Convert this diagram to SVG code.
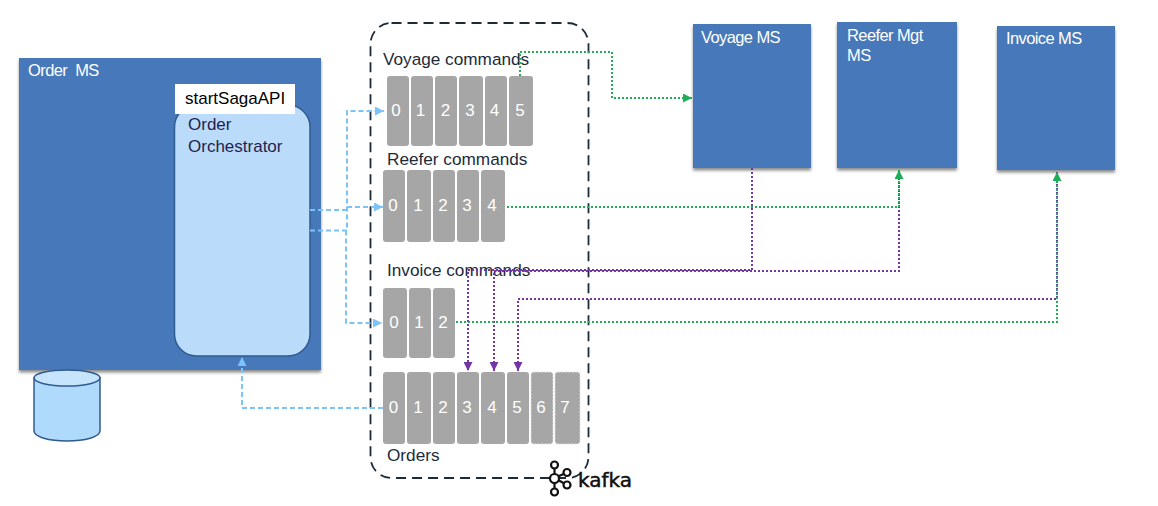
<svg xmlns="http://www.w3.org/2000/svg" width="1158" height="506" viewBox="0 0 1158 506">
<style>
text{font-family:"Liberation Sans",Arial,sans-serif}
.ms{fill:#4678b9;filter:url(#sh)}
.wl{fill:#fff;font-size:16.500px;letter-spacing:-0.600px}
.dl{fill:#1c2b3a;font-size:17.200px}
.p{fill:#a6a6a6}
.pd{fill:#a6a6a6;stroke:#e4e4e4;stroke-width:1;stroke-dasharray:2 1.500}
.n{fill:#fff;font-size:17px;text-anchor:middle}
.c{fill:none;stroke-linejoin:miter}
.b{stroke:#7cc3fa;stroke-width:2;stroke-dasharray:5 3}
.g{stroke:#1fae55;stroke-width:2;stroke-dasharray:2 2}
.v{stroke:#7436a6;stroke-width:2;stroke-dasharray:2 2}
</style>
<defs>
<filter id="sh" x="-5%" y="-5%" width="110%" height="110%"><feDropShadow dx="0" dy="2.500" stdDeviation="1.500" flood-color="#000" flood-opacity="0.45"/></filter>
<marker id="ab" markerUnits="userSpaceOnUse" markerWidth="10" markerHeight="9" refX="9" refY="4.500" orient="auto"><path d="M0 0L9 4.500L0 9z" fill="#7cc3fa"/></marker>
<marker id="ag" markerUnits="userSpaceOnUse" markerWidth="10" markerHeight="9" refX="9" refY="4.500" orient="auto"><path d="M0 0L9 4.500L0 9z" fill="#1fae55"/></marker>
<marker id="av" markerUnits="userSpaceOnUse" markerWidth="10" markerHeight="9" refX="9" refY="4.500" orient="auto"><path d="M0 0L9 4.500L0 9z" fill="#7436a6"/></marker>
</defs>
<g id="order-ms">
<rect class="ms" x="19" y="58" width="302" height="312"/>
<text class="wl" x="28" y="76" xml:space="preserve">Order  MS</text>
</g>
<g id="order-orchestrator">
<rect x="174.500" y="105" width="135.500" height="251" rx="22" fill="#bbdbfb" stroke="#2f5b91" stroke-width="1.500"/>
<text x="188" y="130" font-size="17" fill="#241f4f">Order</text>
<text x="188" y="152" font-size="17" fill="#241f4f">Orchestrator</text>
</g>
<g id="start-saga-api">
<rect x="175" y="84" width="120" height="30" fill="#fff"/>
<text x="185" y="104" font-size="17" fill="#000">startSagaAPI</text>
</g>
<g id="database">
<path d="M34 378V431C34 437 49 441 67 441S100 437 100 431V378z" fill="#b0dafc" stroke="#2f5b91" stroke-width="1.500"/>
<ellipse cx="67" cy="378" rx="33" ry="8" fill="#c6e4fc" stroke="#2f5b91" stroke-width="1.500"/>
</g>
<g id="kafka-cluster">
<rect x="370.500" y="23" width="218" height="455" rx="21" fill="none" stroke="#1c2b3a" stroke-width="1.800" stroke-dasharray="10 6"/>
</g>
<g id="voyage-commands">
<text class="dl" x="383" y="65">Voyage commands</text>
<rect class="p" x="387" y="76" width="22" height="70" rx="3"/><rect class="p" x="411" y="76" width="22" height="70" rx="3"/><rect class="p" x="435" y="76" width="22" height="70" rx="3"/><rect class="p" x="459" y="76" width="24" height="70" rx="3"/><rect class="p" x="485" y="76" width="22" height="70" rx="3"/><rect class="p" x="509" y="76" width="24" height="70" rx="3"/>
<text class="n" x="396" y="116">0</text><text class="n" x="420.500" y="116">1</text><text class="n" x="445.500" y="116">2</text><text class="n" x="470" y="116">3</text><text class="n" x="494.500" y="116">4</text><text class="n" x="520" y="116">5</text>
</g>
<g id="reefer-commands">
<text class="dl" x="387" y="165">Reefer commands</text>
<rect class="p" x="383" y="170" width="22" height="72" rx="3"/><rect class="p" x="407" y="170" width="24" height="72" rx="3"/><rect class="p" x="433" y="170" width="22" height="72" rx="3"/><rect class="p" x="457" y="170" width="22" height="72" rx="3"/><rect class="p" x="481" y="170" width="24" height="72" rx="3"/>
<text class="n" x="393" y="211">0</text><text class="n" x="418" y="211">1</text><text class="n" x="443" y="211">2</text><text class="n" x="467" y="211">3</text><text class="n" x="492" y="211">4</text>
</g>
<g id="invoice-commands">
<text class="dl" x="387" y="276">Invoice commands</text>
<rect class="p" x="383" y="288" width="24" height="70" rx="3"/><rect class="p" x="409" y="288" width="22" height="70" rx="3"/><rect class="p" x="433" y="288" width="22" height="70" rx="3"/>
<text class="n" x="394" y="328">0</text><text class="n" x="419" y="328">1</text><text class="n" x="443" y="328">2</text>
</g>
<g id="orders">
<rect class="p" x="383" y="372" width="22" height="72" rx="3"/><rect class="p" x="407" y="372" width="24" height="72" rx="3"/><rect class="p" x="433" y="372" width="22" height="72" rx="3"/><rect class="p" x="457" y="372" width="22" height="72" rx="3"/><rect class="p" x="481" y="372" width="24" height="72" rx="3"/><rect class="p" x="507" y="372" width="22" height="72" rx="3"/><rect class="pd" x="531" y="372" width="22" height="72" rx="3"/><rect class="pd" x="555" y="372" width="25" height="72" rx="3"/>
<text class="n" x="393.500" y="413">0</text><text class="n" x="418" y="413">1</text><text class="n" x="443" y="413">2</text><text class="n" x="467" y="413">3</text><text class="n" x="492" y="413">4</text><text class="n" x="517" y="413">5</text><text class="n" x="541" y="413">6</text><text class="n" x="565" y="413">7</text>
<text class="dl" x="387" y="461">Orders</text>
</g>
<g id="voyage-ms">
<rect class="ms" x="693" y="24" width="118" height="144"/>
<text class="wl" x="701" y="43">Voyage MS</text>
</g>
<g id="reefer-ms">
<rect class="ms" x="837" y="22" width="120" height="146"/>
<text class="wl" x="847" y="41">Reefer Mgt</text>
<text class="wl" x="847" y="61">MS</text>
</g>
<g id="invoice-ms">
<rect class="ms" x="997" y="26" width="118" height="144"/>
<text class="wl" x="1006" y="44">Invoice MS</text>
</g>
<g id="connectors">
<path class="c b" d="M310 210H346V207H383" marker-end="url(#ab)"/>
<path class="c b" d="M310 230.500H347V111H384" marker-end="url(#ab)"/>
<path class="c b" d="M346 230.500V323H382" marker-end="url(#ab)"/>
<path class="c b" d="M383 408H242V357" marker-end="url(#ab)"/>
<path class="c g" d="M520 76V52H612V98H692" marker-end="url(#ag)"/>
<path class="c v" d="M752 168V270H468V371" marker-end="url(#av)"/>
<path class="c v" d="M899 170V271H494V371" marker-end="url(#av)"/>
<path class="c v" d="M1057 172V299H518V371" marker-end="url(#av)"/>
<path class="c g" d="M507 207H899V170" marker-end="url(#ag)"/>
<path class="c g" d="M456 322H1057V172" marker-end="url(#ag)"/>
</g>
<g id="kafka-logo">
<g fill="#fff" stroke="#111" stroke-width="2.200">
<path d="M554.500 468V489M554.500 478L567 472.500M554.500 478L567 485" fill="none"/>
<circle cx="554.500" cy="465" r="3.500"/><circle cx="554.500" cy="492" r="3.500"/><circle cx="567" cy="472.500" r="3.500"/><circle cx="567" cy="485" r="3.500"/><circle cx="554.500" cy="478.500" r="4.500"/>
</g>
<text x="578" y="487" font-size="20" fill="#111" stroke="#111" stroke-width="0.500" style="font-family:'DejaVu Sans',sans-serif">kafka</text>
</g>
</svg>
